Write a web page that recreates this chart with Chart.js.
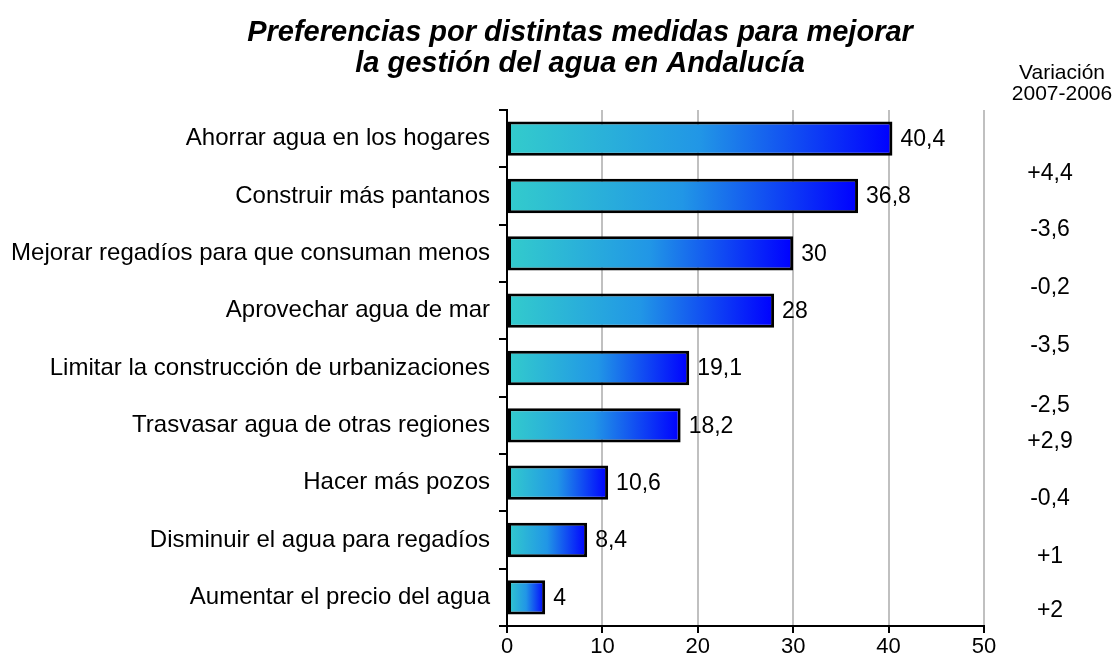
<!DOCTYPE html>
<html>
<head>
<meta charset="utf-8">
<script src="https://cdn.jsdelivr.net/npm/chart.js@4"></script>
<style>
  html, body { margin: 0; padding: 0; background: #fff; }
  #wrap { width: 1114px; height: 666px; position: relative; }
</style>
</head>
<body>
<div id="wrap"><canvas id="myChart"></canvas></div>
<script>
// chart data
const categories = [
  "Ahorrar agua en los hogares",
  "Construir más pantanos",
  "Mejorar regadíos para que consuman menos",
  "Aprovechar agua de mar",
  "Limitar la construcción de urbanizaciones",
  "Trasvasar agua de otras regiones",
  "Hacer más pozos",
  "Disminuir el agua para regadíos",
  "Aumentar el precio del agua",
];
const values = [40.4, 36.8, 30, 28, 19.1, 18.2, 10.6, 8.4, 4];
const variation = ["+4,4", "-3,6", "-0,2", "-3,5", "-2,5", "+2,9", "-0,4", "+1", "+2"];
const xTicks = [0, 10, 20, 30, 40, 50];

const titleLines = [
  "Preferencias por distintas medidas para mejorar",
  "la gestión del agua en Andalucía",
];
const variationHeader = ["Variación", "2007-2006"];

const FONT = "'Liberation Sans', Arial, sans-serif";

// offsets (px) of the variation column relative to each bar centre
const varShift = [35, 34, 34, 35, 38, 16, 16, 17, 13];

function fmt(v) {
  return String(v).replace(".", ",");
}

// gradient fill for each bar, teal -> blue along the bar
function barGradient(context) {
  const chart = context.chart;
  const xScale = chart.scales.x;
  if (!xScale || context.dataIndex === undefined) return "#33cccc";
  const x0 = xScale.getPixelForValue(0);
  const x1 = xScale.getPixelForValue(values[context.dataIndex]);
  if (!isFinite(x0) || !isFinite(x1) || x1 <= x0) return "#33cccc";
  const g = chart.ctx.createLinearGradient(x0, 0, x1, 0);
  g.addColorStop(0, "#33cccc");
  g.addColorStop(0.5, "#2196e6");
  g.addColorStop(1, "#0000ff");
  return g;
}

// extra texts: title, value labels, variation column
const textPlugin = {
  id: "texts",
  afterDatasetsDraw(chart) {
    const ctx = chart.ctx;
    const xScale = chart.scales.x;
    const yScale = chart.scales.y;
    ctx.save();
    ctx.fillStyle = "#000";

    // title
    ctx.font = "italic bold 29px " + FONT;
    ctx.textAlign = "center";
    ctx.textBaseline = "middle";
    ctx.fillText(titleLines[0], 580, 33);
    ctx.fillText(titleLines[1], 580, 64);

    // header of variation column
    ctx.font = "21px " + FONT;
    ctx.fillText(variationHeader[0], 1062, 73);
    ctx.fillText(variationHeader[1], 1062, 94);

    // value labels
    ctx.font = "23px " + FONT;
    ctx.textAlign = "left";
    values.forEach((v, i) => {
      const x = xScale.getPixelForValue(v) + 8;
      const y = yScale.getPixelForValue(i);
      ctx.fillText(fmt(v), x, y + 1);
    });

    // variation values
    ctx.textAlign = "center";
    variation.forEach((t, i) => {
      const y = yScale.getPixelForValue(i) + varShift[i];
      ctx.fillText(t, 1050, y);
    });
    ctx.restore();
  },
};

const ctx = document.getElementById("myChart").getContext("2d");
new Chart(ctx, {
  type: "bar",
  data: {
    labels: categories,
    datasets: [
      {
        data: values,
        backgroundColor: barGradient,
        borderColor: "#000",
        borderWidth: 3,
        borderSkipped: false,
        barPercentage: 0.6,
        categoryPercentage: 1,
      },
    ],
  },
  options: {
    indexAxis: "y",
    responsive: true,
    maintainAspectRatio: false,
    animation: false,
    devicePixelRatio: 1,
    layout: { padding: { top: 110, right: 130, left: 0, bottom: 0 } },
    plugins: {
      legend: { display: false },
      title: { display: false },
      tooltip: { enabled: false },
    },
    scales: {
      x: {
        min: 0,
        max: 50,
        afterFit: (scale) => { scale.height = 40; },
        afterBuildTicks: (scale) => {
          scale.ticks = xTicks.map((v) => ({ value: v }));
        },
        ticks: {
          color: "#000",
          font: { family: FONT, size: 22 },
          padding: 1,
        },
        grid: {
          color: (c) => (c.tick && c.tick.value === 0 ? "#000" : "#c0c0c0"),
          lineWidth: 2,
          tickColor: "#000",
          tickLength: 7,
        },
        border: { color: "#000", width: 2 },
      },
      y: {
        afterFit: (scale) => { scale.width = 507; },
        ticks: {
          color: "#000",
          font: { family: FONT, size: 24 },
          padding: 9,
        },
        grid: {
          offset: true,
          drawOnChartArea: false,
          color: "#000",
          tickColor: "#000",
          lineWidth: 2,
          tickLength: 8,
        },
        border: { color: "#000", width: 2 },
      },
    },
  },
  plugins: [textPlugin],
});
</script>
</body>
</html>
